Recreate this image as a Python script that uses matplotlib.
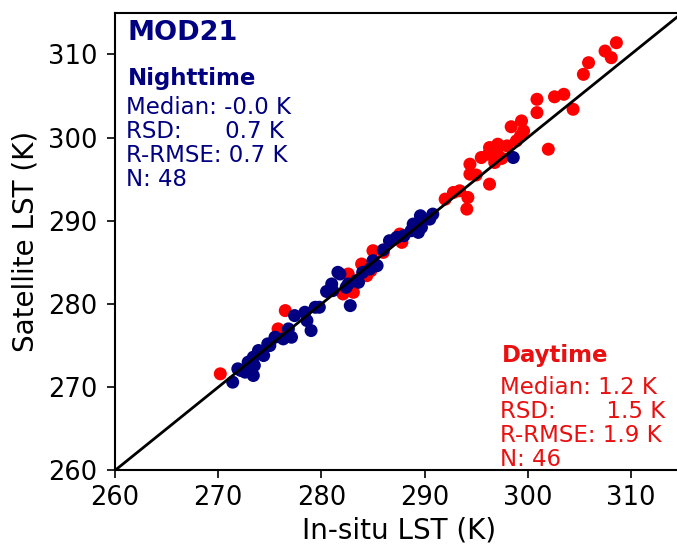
import numpy as np
import matplotlib
matplotlib.use("Agg")
from matplotlib import pyplot as plt

# Daytime (red) points: in-situ vs satellite LST (K)
day_insitu = [308.6, 307.5, 308.1, 305.9, 305.4, 303.5, 302.6, 300.9, 300.9, 304.4,
              299.4, 298.4, 299.6, 299.3, 298.9, 298.0, 297.1, 296.3, 297.0, 295.5,
              296.2, 296.8, 302.0, 294.4, 294.4, 296.3, 292.8, 293.4, 294.2, 294.1,
              287.6, 287.8, 285.0, 283.9, 284.4, 282.6, 283.1, 282.1, 276.5, 275.8,
              270.2, 292.0, 295.0, 297.5, 286.0, 284.8]
day_sat = [311.4, 310.4, 309.6, 309.0, 307.6, 305.2, 304.9, 304.6, 303.0, 303.4,
           302.0, 301.3, 300.8, 300.2, 299.6, 299.0, 299.2, 298.8, 298.4, 297.6,
           298.0, 297.0, 298.6, 296.8, 295.6, 294.4, 293.4, 293.6, 292.8, 291.4,
           288.4, 287.4, 286.4, 284.8, 283.4, 283.6, 281.4, 281.2, 279.2, 277.0,
           271.6, 292.6, 295.5, 297.5, 286.2, 284.0]

# Nighttime (navy) points
night_insitu = [298.6, 290.8, 289.6, 290.5, 288.9, 289.7, 288.7, 289.4, 286.6, 287.3,
                285.0, 285.4, 284.7, 283.4, 281.8, 282.4, 282.8, 281.6, 281.0, 281.1,
                282.6, 283.6, 279.4, 278.4, 277.4, 278.6, 279.0, 276.8, 277.1, 276.3,
                275.5, 274.8, 273.9, 274.4, 273.4, 272.9, 273.5, 271.9, 272.6, 273.4,
                271.4, 280.5, 284.0, 286.0, 288.0, 275.0, 272.2, 279.8]
night_sat = [297.6, 290.8, 290.6, 290.2, 289.6, 289.2, 288.8, 288.6, 287.6, 288.0,
             285.2, 284.6, 284.2, 282.8, 283.6, 282.0, 279.8, 283.8, 282.4, 281.6,
             282.4, 282.6, 279.6, 279.0, 278.6, 278.0, 276.8, 277.0, 276.0, 275.8,
             276.0, 275.2, 274.4, 273.8, 273.6, 273.0, 272.6, 272.2, 271.8, 271.4,
             270.6, 281.5, 283.8, 286.5, 288.2, 275.0, 272.0, 279.6]

night_stats = ["Median: -0.0 K", "RSD:" + " " * 6 + "0.7 K", "R-RMSE: 0.7 K", "N: 48"]
day_stats = ["Median: 1.2 K", "RSD:" + " " * 7 + "1.5 K", "R-RMSE: 1.9 K", "N: 46"]

fig = plt.figure(figsize=(6.77, 5.46), dpi=100)
ax = fig.add_axes([0.170, 0.1386, 0.838, 0.838])

ax.scatter(day_insitu, day_sat, s=88, c="red", edgecolors="none", zorder=2)
ax.scatter(night_insitu, night_sat, s=88, c="navy", edgecolors="none", zorder=3)
ax.plot([260, 315], [260, 315], color="black", lw=2, zorder=4)

ax.set_xlim(260, 315)
ax.set_ylim(260, 315)
ax.set_xticks(np.arange(260, 311, 10))
ax.set_yticks(np.arange(260, 311, 10))
ax.tick_params(labelsize=18.5, length=5.5, width=1.2)
ax.tick_params(axis="x", pad=5)
ax.tick_params(axis="y", pad=7)
for sp in ax.spines.values():
    sp.set_linewidth(1.5)

ax.set_xlabel("In-situ LST (K)", fontsize=20, labelpad=4)
ax.set_ylabel("Satellite LST (K)", fontsize=20, labelpad=6)

ax.text(0.022, 0.985, "MOD21", transform=ax.transAxes, fontsize=19.5,
        fontweight="bold", color="navy", va="top", ha="left")
ax.text(0.022, 0.882, "Nighttime", transform=ax.transAxes, fontsize=16.5,
        fontweight="bold", color="navy", va="top", ha="left")
ax.text(0.019, 0.818, "\n".join(night_stats), transform=ax.transAxes, fontsize=16.5,
        color="navy", va="top", ha="left", linespacing=1.06)

ax.text(0.682, 0.276, "Daytime", transform=ax.transAxes, fontsize=16.5,
        fontweight="bold", color="#e81010", va="top", ha="left")
ax.text(0.679, 0.207, "\n".join(day_stats), transform=ax.transAxes, fontsize=16.5,
        color="#e81010", va="top", ha="left", linespacing=1.06)

fig.savefig("out.png", dpi=100)
